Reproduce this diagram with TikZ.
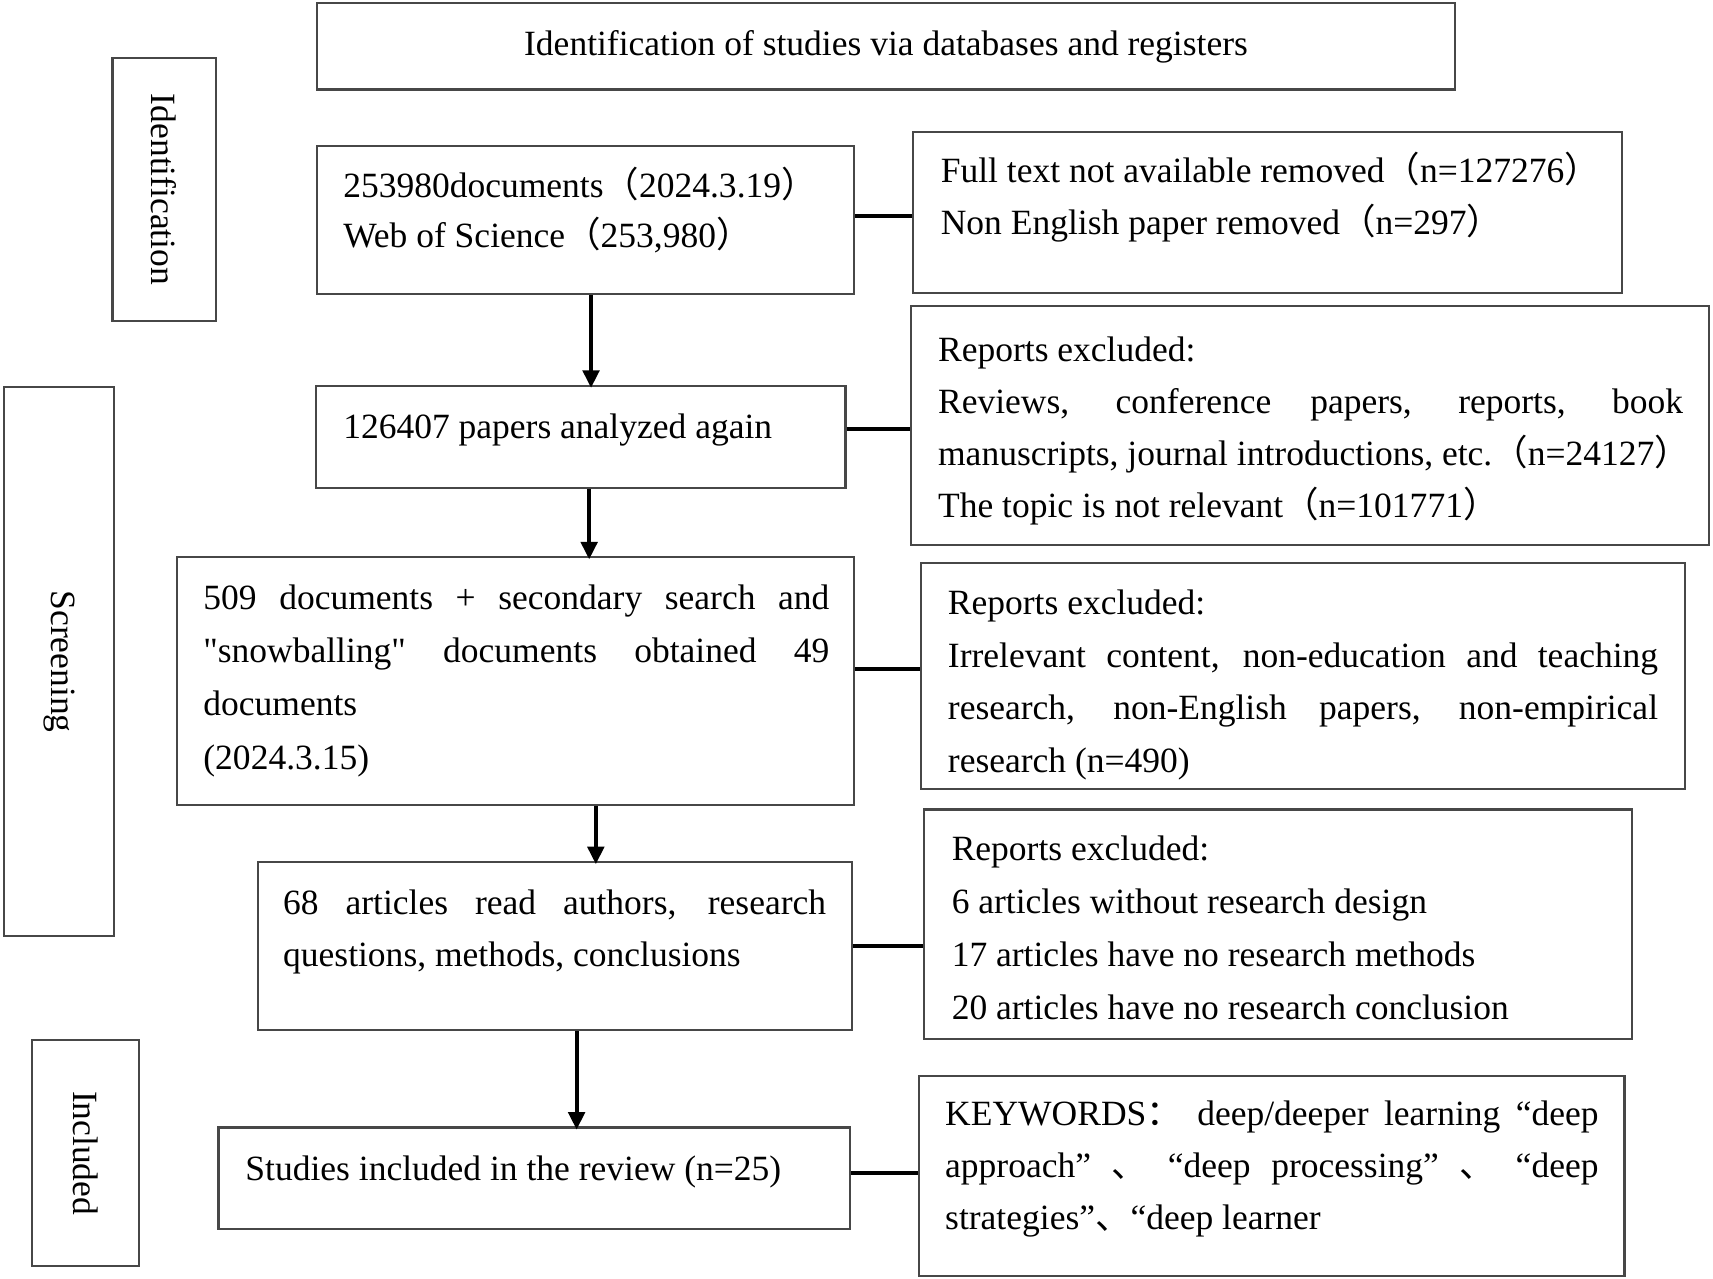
\documentclass[tikz,border=0pt]{standalone}
\usepackage{fontspec}
\setmainfont{Liberation Serif}
\newfontfamily\cjkf{Noto Sans CJK SC}
\newfontfamily\nqf{Liberation Serif}[Ligatures=TeXOff]
\usetikzlibrary{arrows.meta}
\newcommand\fw[1]{{\cjkf #1}}
\newcommand\sq{{\nqf\char34}}
\newcommand\jl[2]{\makebox[#1pt][s]{#2}}
\newcommand\fsz[1]{\fontsize{32.5}{#1}\selectfont}
\begin{document}
\begin{tikzpicture}[x=1pt,y=-1pt,
  box/.style={draw=black!72, line width=2pt, inner sep=0pt, rectangle},
  txt/.style={anchor=base west, inner sep=0pt, align=left},
  conn/.style={draw=black, line width=3.6pt},
  arr/.style={conn, -{Triangle[length=16pt,width=15pt]}, shorten >=-3pt}
]
\useasboundingbox (0,0) rectangle (1568,1170.7);

% title
\node[box, minimum width=1042pt, minimum height=79pt, font=\fsz{40}] (top) at (811,42.5) {Identification of studies via databases and registers};

% phase labels
\node[box, rotate=-90, minimum width=241pt, minimum height=94.5pt, font=\fsz{40}] (lid) at (150.25,173.5) {Identification};
\node[box, rotate=-90, minimum width=503pt, minimum height=100pt, font=\fsz{40}] (lsc) at (54,605.5) {Screening};
\node[box, rotate=-90, minimum width=207pt, minimum height=98pt, font=\fsz{40}] (lin) at (78,1055.5) {Included};

% main boxes
\node[box, minimum width=491.5pt, minimum height=135pt] (b1) at (536.25,201.5) {};
\node[box, minimum width=485pt, minimum height=93.5pt] (b2) at (531.5,399.75) {};
\node[box, minimum width=620pt, minimum height=227pt] (b3) at (472,623.5) {};
\node[box, minimum width=544pt, minimum height=154pt] (b4) at (508,866) {};
\node[box, minimum width=578pt, minimum height=93pt] (b5) at (489,1078.5) {};

% exclusion boxes
\node[box, minimum width=649pt, minimum height=147pt] (e1) at (1160.5,194.5) {};
\node[box, minimum width=730pt, minimum height=219pt] (e2) at (1199,389.5) {};
\node[box, minimum width=699pt, minimum height=207pt] (e3) at (1192.5,618.5) {};
\node[box, minimum width=648pt, minimum height=210pt] (e4) at (1170,846) {};
\node[box, minimum width=646pt, minimum height=183pt] (e5) at (1164,1076.5) {};

% texts (anchor = baseline of the last line)
\node[txt, font=\fsz{46.5}] (b1t) at (314,227) {253980documents\fw{（}2024.3.19\fw{）}\\Web of Science\fw{（}253,980\fw{）}};
\node[txt, font=\fsz{47.8}] (e1t) at (861,214.8) {Full text not available removed\fw{（}n=127276\fw{）}\\Non English paper removed\fw{（}n=297\fw{）}};
\node[txt, font=\fsz{48}] (b2t) at (314,401.6) {126407 papers analyzed again};
\node[txt, font=\fsz{47.7}] (e2t) at (858.5,473.8) {Reports excluded:\\\jl{682}{Reviews, conference papers, reports, book}\\manuscripts, journal introductions, etc.\fw{（}n=24127\fw{）}\\The topic is not relevant\fw{（}n=101771\fw{）}};
\node[txt, font=\fsz{48.9}] (b3t) at (186,704.2) {\jl{573}{509 documents + secondary search and}\\\jl{573}{\sq snowballing\sq{} documents obtained 49}\\documents\\(2024.3.15)};
\node[txt, font=\fsz{48.3}] (e3t) at (867.5,707.2) {Reports excluded:\\\jl{650}{Irrelevant content, non-education and teaching}\\\jl{650}{research, non-English papers, non-empirical}\\research (n=490)};
\node[txt, font=\fsz{47.8}] (b4t) at (259,884.7) {\jl{497}{68 articles read authors, research}\\questions, methods, conclusions};
\node[txt, font=\fsz{48.6}] (e4t) at (871,933.4) {Reports excluded:\\6 articles without research design\\17 articles have no research methods\\20 articles have no research conclusion};
\node[txt, font=\fsz{48}] (b5t) at (224.5,1080.8) {Studies included in the review (n=25)};
\node[txt, font=\fsz{47.7}] (e5t) at (865,1125.8) {\jl{598}{KEYWORDS\fw{：} deep/deeper learning “deep}\\\jl{598}{approach” \fw{、} “deep processing” \fw{、} “deep}\\strategies”\fw{、}“deep learner};

% helper coordinates
\coordinate (y1) at (0,198);
\coordinate (y2) at (0,393);
\coordinate (y3) at (0,612.7);
\coordinate (y4) at (0,866);
\coordinate (y5) at (0,1073.4);
\coordinate (x1) at (541,0);
\coordinate (x2) at (539.3,0);
\coordinate (x3) at (545.4,0);
\coordinate (x4) at (527.8,0);

% horizontal connectors
\draw[conn] (b1.east |- y1) -- (e1.west |- y1);
\draw[conn] (b2.east |- y2) -- (e2.west |- y2);
\draw[conn] (b3.east |- y3) -- (e3.west |- y3);
\draw[conn] (b4.east |- y4) -- (e4.west |- y4);
\draw[conn] (b5.east |- y5) -- (e5.west |- y5);

% vertical arrows
\draw[arr] (b1.south -| x1) -- (b2.north -| x1);
\draw[arr] (b2.south -| x2) -- (b3.north -| x2);
\draw[arr] (b3.south -| x3) -- (b4.north -| x3);
\draw[arr] (b4.south -| x4) -- (b5.north -| x4);
\end{tikzpicture}
\end{document}
